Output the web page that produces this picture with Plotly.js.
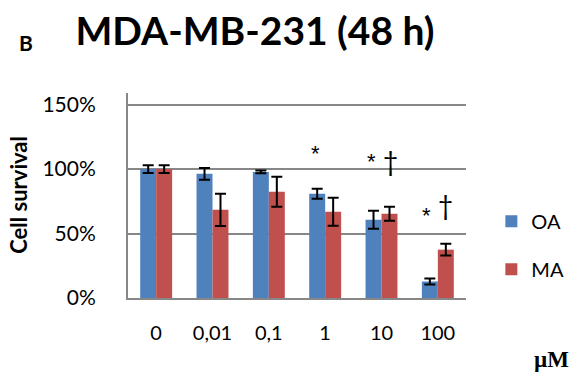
<!DOCTYPE html>
<html>
<head>
<meta charset="utf-8">
<script src="https://cdn.plot.ly/plotly-3.0.1.min.js"></script>
<style>
  html, body { margin: 0; padding: 0; background: #fff; }
  #chart { width: 578px; height: 374px; }
</style>
</head>
<body>
<div id="chart"></div>
<script>
// Doses (µM) on the category axis
const doses = ['0', '0,01', '0,1', '1', '10', '100'];

// Cell survival (%) after 48 h, mean and error
const oaMean = [100, 96.3, 97.8, 80.8, 60.7, 12.8];
const oaErr  = [3, 4.6, 1, 3.9, 7, 2.3];
const maMean = [100, 68.4, 82.4, 66.9, 65.4, 37.5];
const maErr  = [3, 12.5, 11.6, 10.8, 5.4, 4.6];

// Y ticks
const yTickVals = [0, 50, 100, 150];
const yTickText = ['0%', '50%', '100%', '150%'];

// Significance marks: dose, symbol, height (%), horizontal shift (px)
const marks = [
  {dose: '1',   sym: '*', y: 112, dx: -10},
  {dose: '10',  sym: '*', y: 106, dx: -10},
  {dose: '10',  sym: '†', y: 106, dx: 9},
  {dose: '100', sym: '*', y: 64,  dx: -11},
  {dose: '100', sym: '†', y: 72,  dx: 8}
];

const FONT = 'Lato, "Open Sans", sans-serif';
const GRID = '#878787';

const errStyle = {type: 'data', visible: true, color: '#000', thickness: 2, width: 5.5};

const traces = [
  {type: 'bar', name: 'OA', x: doses, y: oaMean,
   marker: {color: '#4F81BD'}, error_y: Object.assign({array: oaErr}, errStyle),
   legendgroup: 'oa'},
  {type: 'bar', name: 'MA', x: doses, y: maMean,
   marker: {color: '#C0504D'}, error_y: Object.assign({array: maErr}, errStyle),
   legendgroup: 'ma'}
];

// numeric dose strings would be read as category indices, so place marks by index
const annotations = marks.map(m => ({
  x: doses.indexOf(m.dose), y: m.y, xref: 'x', yref: 'y', text: m.sym, showarrow: false,
  xshift: m.dx, xanchor: 'center', yanchor: 'middle',
  font: m.sym === '*'
    ? {family: '"Liberation Sans", sans-serif', size: 22, color: '#000'}
    : {family: FONT, size: 26, color: '#000'}
}));

annotations.push(
  {xref: 'paper', yref: 'paper', x: -0.322, y: 0.504, text: '<b>Cell survival</b>',
   textangle: -90, showarrow: false, xanchor: 'center', yanchor: 'middle',
   font: {family: FONT, size: 22, color: '#000'}},
  {xref: 'paper', yref: 'paper', x: 1.2526, y: -0.299, text: '<b>µM</b>',
   showarrow: false, xanchor: 'center', yanchor: 'middle',
   font: {family: '"Liberation Serif", "DejaVu Serif", serif', size: 23, color: '#000'}},
  {xref: 'paper', yref: 'paper', x: -0.3013, y: 1.2457, text: '<b>B</b>',
   showarrow: false, xanchor: 'center', yanchor: 'middle',
   font: {family: FONT, size: 21, color: '#000'}}
);

const layout = {
  width: 578, height: 374,
  margin: {l: 127.5, r: 112, t: 93, b: 75.5, pad: 0, autoexpand: false},
  paper_bgcolor: '#fff', plot_bgcolor: '#fff',
  title: {
    text: '<b>MDA-MB-231 (48 h)</b>',
    xref: 'container', yref: 'container', x: 255 / 578, y: 1 - 31 / 374,
    xanchor: 'center', yanchor: 'middle',
    font: {family: FONT, size: 39, color: '#000'}
  },
  barmode: 'group', bargap: 0.433, bargroupgap: 0,
  xaxis: {
    type: 'category', range: [-0.5, doses.length - 0.5],
    showline: true, linecolor: GRID, linewidth: 2,
    ticks: '', showgrid: false, ticklabelstandoff: 16,
    tickfont: {family: FONT, size: 20, color: '#000'}
  },
  yaxis: {
    range: [0, 159], tickmode: 'array', tickvals: yTickVals, ticktext: yTickText,
    showline: true, linecolor: GRID, linewidth: 2,
    showgrid: true, gridcolor: GRID, gridwidth: 2, zeroline: false,
    ticks: '', ticklabelstandoff: 26,
    tickfont: {family: FONT, size: 21, color: '#000'}
  },
  showlegend: true,
  legend: {
    x: 1.075, y: 0.47, xanchor: 'left', yanchor: 'top',
    tracegroupgap: 19, traceorder: 'grouped',
    font: {family: FONT, size: 20, color: '#000'},
    bgcolor: 'rgba(0,0,0,0)'
  },
  annotations: annotations
};

Plotly.newPlot('chart', traces, layout, {displayModeBar: false, staticPlot: true});
</script>
</body>
</html>
